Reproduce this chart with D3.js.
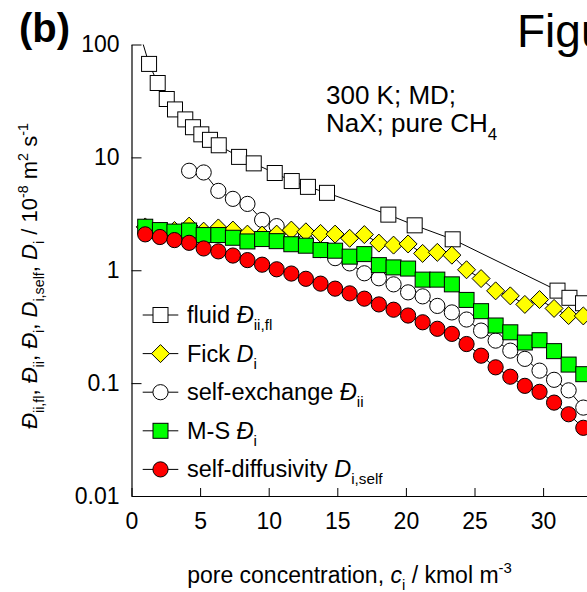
<!DOCTYPE html>
<html><head><meta charset="utf-8">
<script src="https://cdn.jsdelivr.net/npm/d3@7"></script>
<style>
html,body{margin:0;padding:0;background:#fff;overflow:hidden;}
svg{display:block;font-family:"Liberation Sans",Arial,sans-serif;}
</style></head>
<body>
<svg id="chart" width="587" height="592"></svg>
<script>
// ---- data ----
const cGrid = [1.00,2.07,3.13,4.20,5.26,6.33,7.39,8.45,9.52,10.58,11.65,12.71,13.78,14.84,15.90,16.97,18.03,19.10,20.16,21.22,22.29,23.35,24.42,25.48,26.54,27.61,28.67,29.74,30.80,31.86,32.93];
const fickD = [2.42,2.20,2.25,2.46,2.22,2.37,2.27,2.09,2.05,2.09,2.27,2.19,2.12,2.09,1.92,2.07,1.74,1.67,1.71,1.41,1.44,1.36,1.01,0.844,0.657,0.593,0.498,0.550,0.459,0.397,0.394];
const selfExD = [null,null,null,7.61,7.35,5.05,4.29,3.87,2.79,2.46,2.13,1.81,1.51,1.28,1.15,0.94,0.849,0.750,0.637,0.587,0.483,0.423,0.366,0.292,0.238,0.194,0.164,0.129,0.107,0.0863,0.0607];
const msD = [2.43,2.27,2.20,2.25,2.05,2.05,1.94,1.80,1.89,1.81,1.70,1.65,1.51,1.49,1.32,1.39,1.11,1.06,1.035,0.826,0.826,0.750,0.546,0.434,0.324,0.282,0.229,0.240,0.192,0.146,0.120];
const selfDiffD = [2.08,1.97,1.85,1.75,1.56,1.47,1.35,1.23,1.12,1.02,0.935,0.840,0.761,0.687,0.624,0.560,0.498,0.447,0.397,0.346,0.303,0.273,0.222,0.175,0.138,0.114,0.0946,0.0837,0.0672,0.0530,0.0402];
const fluidC = [0.6,1.28,1.91,2.57,3.17,3.92,4.48,5.09,5.72,6.36,7.84,8.91,10.44,11.68,12.86,14.25,18.72,20.64,23.41,31.05,31.92,32.91,34.0];
const fluidD = [127,67.3,45.6,32.9,26.6,21.7,18.5,16.0,14.3,12.8,10.1,8.85,7.27,6.17,5.48,4.85,3.11,2.50,1.88,0.66,0.57,0.51,0.45];
const xTicks = [0,5,10,15,20,25,30];
const yTicks = [0.01,0.1,1,10,100];
const yTickLabels = ["0.01","0.1","1","10","100"];

// ---- layout ----
const svg = d3.select("#chart");
const FONT = "'Liberation Sans',Arial,sans-serif";
const x = d3.scaleLinear().domain([0,40]).range([131.5,680.3]);
const y = d3.scaleLog().domain([0.01,100]).range([496,44.5]);

svg.append("defs").append("clipPath").attr("id","plotclip")
  .append("rect").attr("x",x(0)).attr("y",y(100)).attr("width",x(40)-x(0)).attr("height",y(0.01)-y(100));

// axes
const minorX = d3.range(0,41,1);
const minorY = [];
[0.01,0.1,1,10].forEach(d=>{for(let m=2;m<=9;m++) minorY.push(d*m);});

const gx = svg.append("g").attr("transform",`translate(0,${y(0.01)})`);
gx.call(d3.axisBottom(x).tickValues(minorX).tickSize(-5).tickFormat(""));
gx.call(d3.axisBottom(x).tickValues(xTicks).tickSizeInner(-8).tickSizeOuter(0).tickPadding(17).tickFormat(d3.format("d")));
const gy = svg.append("g").attr("transform",`translate(${x(0)},0)`);
gy.call(d3.axisLeft(y).tickValues(minorY).tickSize(-6).tickFormat(""));
gy.call(d3.axisLeft(y).tickValues(yTicks).tickSizeInner(-10).tickSizeOuter(0).tickPadding(12).tickFormat((d,i)=>yTickLabels[i]));
svg.selectAll(".domain").attr("stroke","#000").attr("stroke-width",1.2);
svg.selectAll(".tick line").attr("stroke","#000").attr("stroke-width",1);
svg.selectAll(".tick text").attr("font-family",FONT).attr("font-size",23).attr("fill","#000");
gx.selectAll(".tick text").attr("dy","0.71em");

// series
const plot = svg.append("g").attr("clip-path","url(#plotclip)");
const line = d3.line().x(d=>x(d.c)).y(d=>y(d.v));
function series(cs, vs){ return cs.map((c,i)=>({c:c, v:vs[i]})).filter(d=>d.v!=null); }

const SQ = 15, R = 7.6, DI = 9;
function drawMarker(g, type, fill, cx, cy){
  if(type==="square") g.append("rect").attr("x",cx-SQ/2).attr("y",cy-SQ/2).attr("width",SQ).attr("height",SQ)
      .attr("fill",fill).attr("stroke","#000").attr("stroke-width",1);
  else if(type==="circle") g.append("circle").attr("cx",cx).attr("cy",cy).attr("r",R)
      .attr("fill",fill).attr("stroke","#000").attr("stroke-width",1);
  else g.append("path").attr("d",`M${cx},${cy-DI}L${cx+DI},${cy}L${cx},${cy+DI}L${cx-DI},${cy}Z`)
      .attr("fill",fill).attr("stroke","#000").attr("stroke-width",1);
}

const defs = [
  {name:"fluid", cs:fluidC, vs:fluidD, type:"square", fill:"#fff"},
  {name:"selfex", cs:cGrid, vs:selfExD, type:"circle", fill:"#fff"},
  {name:"fick", cs:cGrid, vs:fickD, type:"diamond", fill:"#ffff00"},
  {name:"ms", cs:cGrid, vs:msD, type:"square", fill:"#00ff00"},
  {name:"selfdiff", cs:cGrid, vs:selfDiffD, type:"circle", fill:"#ff0000"}
];
defs.forEach(s=>{
  const data = series(s.cs, s.vs);
  const g = plot.append("g");
  g.append("path").datum(data).attr("d",line).attr("fill","none").attr("stroke","#000").attr("stroke-width",1);
  data.forEach(d=>drawMarker(g, s.type, s.fill, x(d.c), y(d.v)));
});

// rich text helper
function rich(textSel, parts, baseSize){
  let off = 0;
  parts.forEach(p=>{
    const t = textSel.append("tspan").text(p.t);
    let target = 0, size = baseSize;
    if(p.sub){ target = baseSize*0.30; size = baseSize*0.65; }
    if(p.sup){ target = -baseSize*0.42; size = baseSize*0.65; }
    t.attr("font-size",size);
    if(target!==off){ t.attr("dy",target-off); off = target; }
    if(p.i) t.attr("font-style","italic");
  });
}

// legend
const legend = [
  {type:"square", fill:"#fff", parts:[{t:"fluid "},{t:"Đ",i:1},{t:"ii,fl",sub:1}]},
  {type:"diamond", fill:"#ffff00", parts:[{t:"Fick "},{t:"D",i:1},{t:"i",sub:1}]},
  {type:"circle", fill:"#fff", parts:[{t:"self-exchange "},{t:"Đ",i:1},{t:"ii",sub:1}]},
  {type:"square", fill:"#00ff00", parts:[{t:"M-S "},{t:"Đ",i:1},{t:"i",sub:1}]},
  {type:"circle", fill:"#ff0000", parts:[{t:"self-diffusivity "},{t:"D",i:1},{t:"i,self",sub:1}]}
];
const lg = svg.append("g");
legend.forEach((e,i)=>{
  const ly = 315 + i*38.6;
  lg.append("line").attr("x1",142.7).attr("x2",178.3).attr("y1",ly).attr("y2",ly).attr("stroke","#000").attr("stroke-width",1);
  drawMarker(lg, e.type, e.fill, 160.5, ly);
  const t = lg.append("text").attr("x",187).attr("y",ly+8).attr("font-family",FONT).attr("font-size",23.5).attr("fill","#000");
  rich(t, e.parts, 23.5);
});

// annotation
const ann = svg.append("text").attr("x",326).attr("y",104).attr("font-family",FONT).attr("font-size",26).attr("fill","#000");
ann.text("300 K; MD;");
const ann2 = svg.append("text").attr("x",326).attr("y",132).attr("font-family",FONT).attr("font-size",26).attr("fill","#000");
rich(ann2, [{t:"NaX; pure CH"},{t:"4",sub:1}], 26);

// panel label and title
svg.append("text").attr("x",19).attr("y",42).attr("font-family",FONT).attr("font-size",40).attr("font-weight","bold").attr("fill","#000").text("(b)");
svg.append("text").attr("x",517).attr("y",47).attr("font-family",FONT).attr("font-size",46).attr("fill","#000").text("Figure");

// axis titles
const xt = svg.append("text").attr("x",349.5).attr("y",583).attr("text-anchor","middle").attr("font-family",FONT).attr("font-size",23).attr("fill","#000");
rich(xt, [{t:"pore concentration, "},{t:"c",i:1},{t:"i",sub:1},{t:" / kmol m"},{t:"-3",sup:1}], 23);

const yt = svg.append("text").attr("transform","translate(37,276) rotate(-90)").attr("text-anchor","middle").attr("font-family",FONT).attr("font-size",22).attr("fill","#000");
rich(yt, [{t:"Đ",i:1},{t:"ii,fl",sub:1},{t:", "},{t:"Đ",i:1},{t:"ii",sub:1},{t:", "},{t:"Đ",i:1},{t:"i",sub:1},{t:", "},{t:"D",i:1},{t:"i,self",sub:1},{t:", "},{t:"D",i:1},{t:"i",sub:1},{t:"  / 10"},{t:"-8",sup:1},{t:" m"},{t:"2",sup:1},{t:" s"},{t:"-1",sup:1}], 22);
</script>
</body></html>
